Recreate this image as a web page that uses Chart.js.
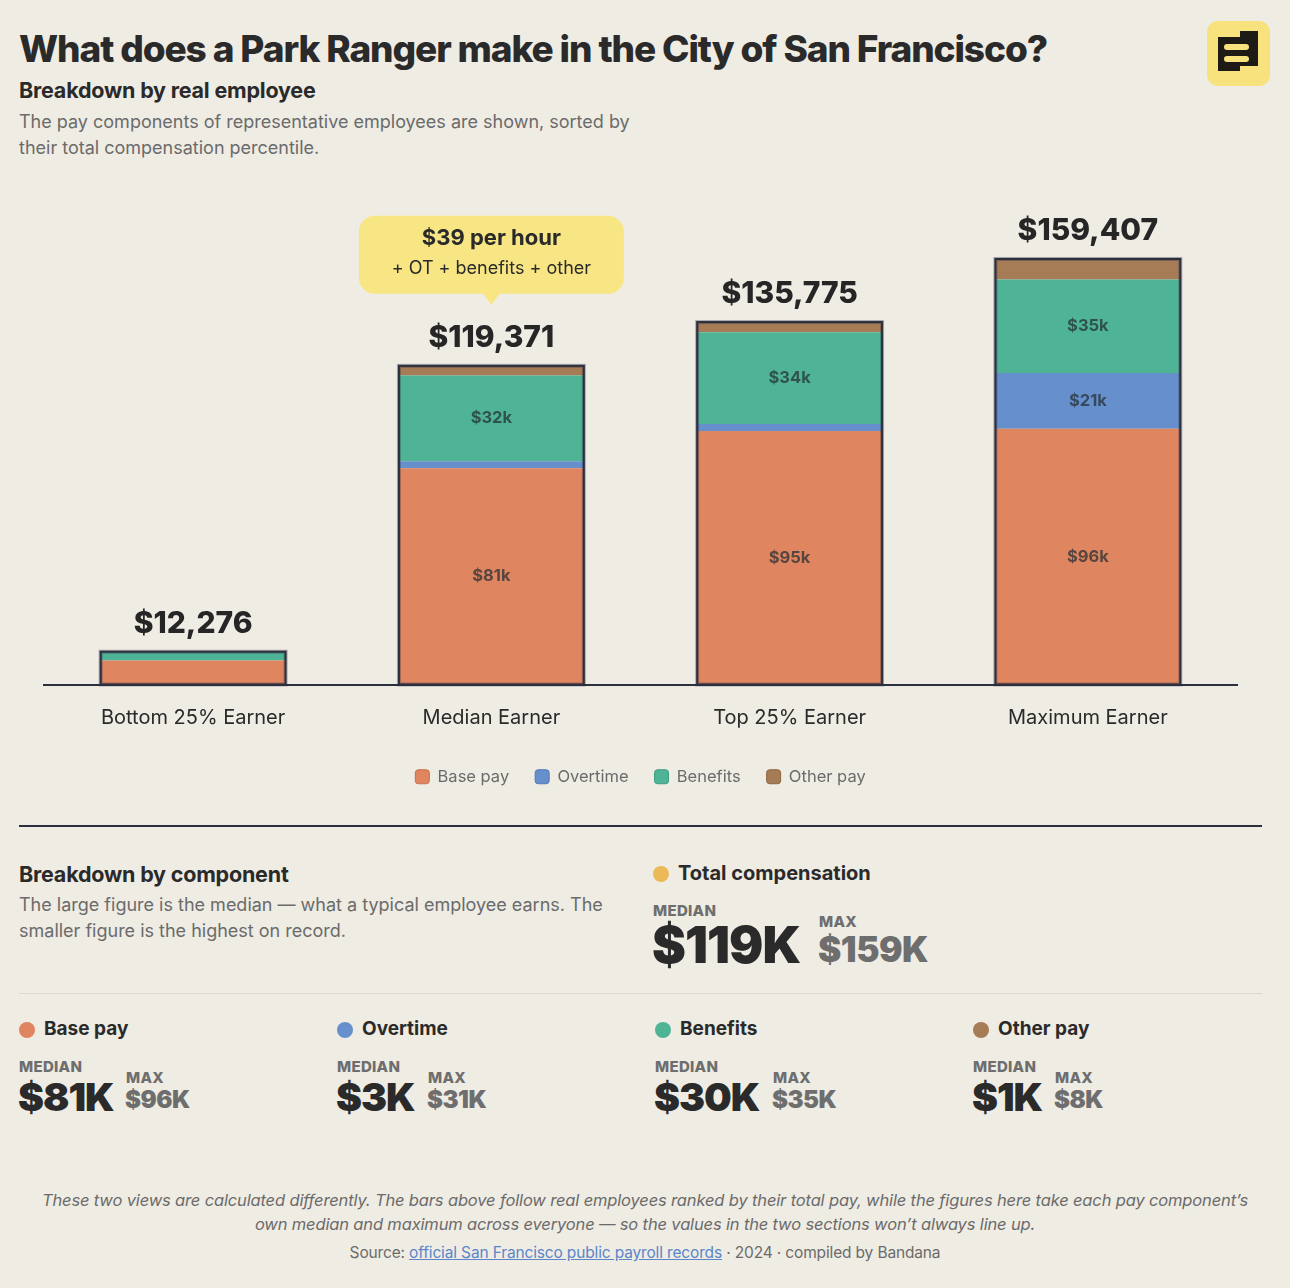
<!DOCTYPE html>
<html>
<head>
<meta charset="utf-8">
<script src="https://cdn.jsdelivr.net/npm/chart.js@4.4.1/dist/chart.umd.min.js"></script>
<style>
  html, body { margin: 0; padding: 0; }
  body {
    width: 1290px; height: 1288px; background: #efece4; position: relative;
    font-family: Inter, "Noto Sans", sans-serif; color: #2a2a2a; overflow: hidden;
  }
  .abs { position: absolute; white-space: nowrap; }
  h1 { position: absolute; left: 19px; top: 26px; margin: 0; font-size: 37px; font-weight: 800; letter-spacing: -1.1px; }
  .sub { font-size: 21.5px; font-weight: 700; letter-spacing: -0.2px; }
  .desc { font-size: 18px; color: #6b6b6b; line-height: 26px; white-space: normal; }
  #chartBox { position: absolute; left: 0; top: 170px; width: 1290px; height: 625px; }
  .rule { position: absolute; left: 19px; width: 1243px; }
  .dot { position: absolute; width: 16px; height: 16px; border-radius: 50%; }
  .lab { font-weight: 700; }
  .cap { font-size: 15px; font-weight: 800; color: #6e6e6e; letter-spacing: 0.3px; }
  .big { font-weight: 900; letter-spacing: -1px; }
  .maxv { font-weight: 900; color: #6e6e6e; letter-spacing: -0.5px; }
  .foot { position: absolute; left: 0; width: 1290px; text-align: center; color: #6b6b6b; }
</style>
</head>
<body>
<h1>What does a Park Ranger make in the City of San Francisco?</h1>
<svg class="abs" style="left:1207px;top:21px" width="63" height="65" viewBox="0 0 63 65">
  <rect x="0" y="0" width="63" height="65" rx="11" fill="#f7e27d"/>
  <path d="M11 16 H33 V10 H51 V45 H33 V50 H11 Z" fill="#1e1b17"/>
  <rect x="17" y="23" width="25" height="6" rx="3" fill="#f7e27d"/>
  <rect x="17" y="35" width="25" height="6" rx="3" fill="#f7e27d"/>
</svg>
<div class="abs sub" style="left:19px;top:77px">Breakdown by real employee</div>
<div class="abs desc" style="left:19px;top:109px;width:640px">The pay components of representative employees are shown, sorted by their total compensation percentile.</div>

<div id="chartBox"><canvas id="payChart"></canvas></div>

<div class="rule" style="top:825px;height:2px;background:#2b2f3e"></div>

<div class="abs sub" style="left:19px;top:861px">Breakdown by component</div>
<div class="abs desc" style="left:19px;top:892px;width:610px">The large figure is the median — what a typical employee earns. The smaller figure is the highest on record.</div>

<div id="stats"></div>

<div class="rule" style="top:993px;height:1px;background:#dcd8ce"></div>

<div class="foot" style="top:1188px;font-size:16.5px;font-style:italic;line-height:24px;letter-spacing:-0.15px">These two views are calculated differently. The bars above follow real employees ranked by their total pay, while the figures here take each pay component’s<br>own median and maximum across everyone — so the values in the two sections won’t always line up.</div>
<div class="foot" style="top:1243px;font-size:15.5px;letter-spacing:-0.15px">Source: <span style="color:#5b86c9;text-decoration:underline">official San Francisco public payroll records</span> · 2024 · compiled by Bandana</div>

<script>
// bar data, in dollars
const categories = ["Bottom 25% Earner", "Median Earner", "Top 25% Earner", "Maximum Earner"];
const basePay  = [9000, 81000, 95000, 95800];
const overtime = [0, 2600, 2600, 20900];
const benefits = [3076, 32200, 34400, 35000];
const otherPay = [200, 3571, 3775, 7707];
const totals   = [12276, 119371, 135775, 159407];

const seriesNames  = ["Base pay", "Overtime", "Benefits", "Other pay"];
const seriesColors = ["#df8560", "#6690cc", "#4fb496", "#a67c56"];
const seriesEdges  = ["#c96e4a", "#4f78b5", "#3b9a7e", "#8c6440"];

// component summary figures
const statNames   = ["Base pay", "Overtime", "Benefits", "Other pay"];
const statMedians = ["$81K", "$3K", "$30K", "$1K"];
const statMaxes   = ["$96K", "$31K", "$35K", "$8K"];
const totalMedian = "$119K";
const totalMax    = "$159K";
const hourlyNote  = "$39 per hour";

// lower stat blocks
const stats = document.getElementById("stats");
function addStat(x, y, name, color, med, max, labSize, bigSize, maxSize, maxDx, bigDy) {
  stats.insertAdjacentHTML("beforeend",
    `<div class="dot" style="left:${x}px;top:${y - 8}px;background:${color}"></div>
     <div class="abs lab" style="left:${x + 25}px;top:${y - 13}px;font-size:${labSize}px">${name}</div>
     <div class="abs cap" style="left:${x}px;top:${y + 27}px">MEDIAN</div>
     <div class="abs big" style="left:${x - 1}px;top:${y + bigDy}px;font-size:${bigSize}px;line-height:${bigSize}px">${med}</div>
     <div class="abs cap" style="left:${x + maxDx}px;top:${y + 38}px">MAX</div>
     <div class="abs maxv" style="left:${x + maxDx - 1}px;top:${y + 58}px;font-size:${maxSize}px;line-height:${maxSize}px">${max}</div>`);
}
addStat(653, 874, "Total compensation", "#ebb955", totalMedian, totalMax, 20, 51, 35, 166, 45);
const colX = [19, 337, 655, 973];
const medW = [107, 91, 118, 82];
statNames.forEach((n, i) => addStat(colX[i], 1030, n, seriesColors[i], statMedians[i], statMaxes[i], 19, 39, 24, medW[i], 47));

// outline, totals, segment labels and the hourly callout
const decor = {
  id: "decor",
  afterDatasetsDraw(chart) {
    const { ctx, scales: { y } } = chart;
    const base = y.getPixelForValue(0);
    chart.getDatasetMeta(0).data.forEach((bar, i) => {
      const left = bar.x - bar.width / 2, top = y.getPixelForValue(totals[i]);
      // segment labels
      ctx.save();
      ctx.font = "700 16.5px Inter";
      ctx.textAlign = "center"; ctx.textBaseline = "middle";
      chart.data.datasets.forEach((ds, d) => {
        const el = chart.getDatasetMeta(d).data[i];
        const h = Math.abs(el.base - el.y);
        if (h > 30) {
          ctx.fillStyle = "rgba(35,45,50,0.72)";
          ctx.fillText("$" + Math.round(ds.data[i] / 1000) + "k", el.x, (el.y + el.base) / 2);
        }
      });
      // stack outline
      ctx.strokeStyle = "rgba(43,47,62,0.35)"; ctx.lineWidth = 4;
      ctx.strokeRect(left, top, bar.width, base - top);
      ctx.strokeStyle = "#2b2f3e"; ctx.lineWidth = 2;
      ctx.strokeRect(left, top, bar.width, base - top);
      // total label
      ctx.fillStyle = "#262626";
      ctx.font = "800 30px Inter";
      ctx.fillText("$" + totals[i].toLocaleString("en-US"), bar.x, top - 28);
      ctx.restore();
    });
    // callout above the median bar
    const m = chart.getDatasetMeta(0).data[1];
    const mt = y.getPixelForValue(totals[1]);
    const bw = 265, bh = 78, bx = m.x - bw / 2, by = mt - 150;
    ctx.save();
    ctx.fillStyle = "#f8e684";
    ctx.beginPath();
    ctx.roundRect(bx, by, bw, bh, 16);
    ctx.fill();
    ctx.beginPath();
    ctx.moveTo(m.x - 9, by + bh - 1);
    ctx.lineTo(m.x, by + bh + 11);
    ctx.lineTo(m.x + 9, by + bh - 1);
    ctx.fill();
    ctx.fillStyle = "#2a2a2a";
    ctx.textAlign = "center"; ctx.textBaseline = "middle";
    ctx.font = "700 22px Inter";
    ctx.fillText(hourlyNote, m.x, by + 23);
    ctx.font = "400 18px Inter";
    ctx.fillText("+ OT + benefits + other", m.x, by + 53);
    ctx.restore();
  }
};

const seriesData = [basePay, overtime, benefits, otherPay];
new Chart(document.getElementById("payChart"), {
  type: "bar",
  data: {
    labels: categories,
    datasets: seriesData.map((data, i) => ({
      label: seriesNames[i],
      data,
      backgroundColor: seriesColors[i],
      borderColor: seriesEdges[i],
      borderWidth: 0,
      barPercentage: 0.62,
      categoryPercentage: 1,
    })),
  },
  options: {
    responsive: true,
    maintainAspectRatio: false,
    animation: false,
    layout: { padding: { left: 44, right: 53, top: 34, bottom: 0 } },
    plugins: {
      tooltip: { enabled: false },
      legend: {
        position: "bottom",
        labels: {
          font: { family: "Inter", size: 16.5 },
          color: "#6b6b6b",
          boxWidth: 14,
          boxHeight: 14,
          useBorderRadius: true,
          borderRadius: 3,
          padding: 26,
          generateLabels: (chart) => chart.data.datasets.map((ds, i) => ({
            text: ds.label,
            fillStyle: ds.backgroundColor,
            strokeStyle: seriesEdges[i],
            lineWidth: 1,
            fontColor: "#6b6b6b",
            borderRadius: 3,
            datasetIndex: i,
          })),
        },
      },
    },
    scales: {
      x: {
        stacked: true,
        grid: { display: false },
        border: { display: true, color: "#2b2f3e", width: 2 },
        ticks: { color: "#2a2a2a", font: { family: "Inter", size: 20 }, padding: 13 },
      },
      y: {
        stacked: true,
        display: false,
        min: 0,
        max: 180000,
      },
    },
  },
  plugins: [decor],
});
</script>
</body>
</html>
